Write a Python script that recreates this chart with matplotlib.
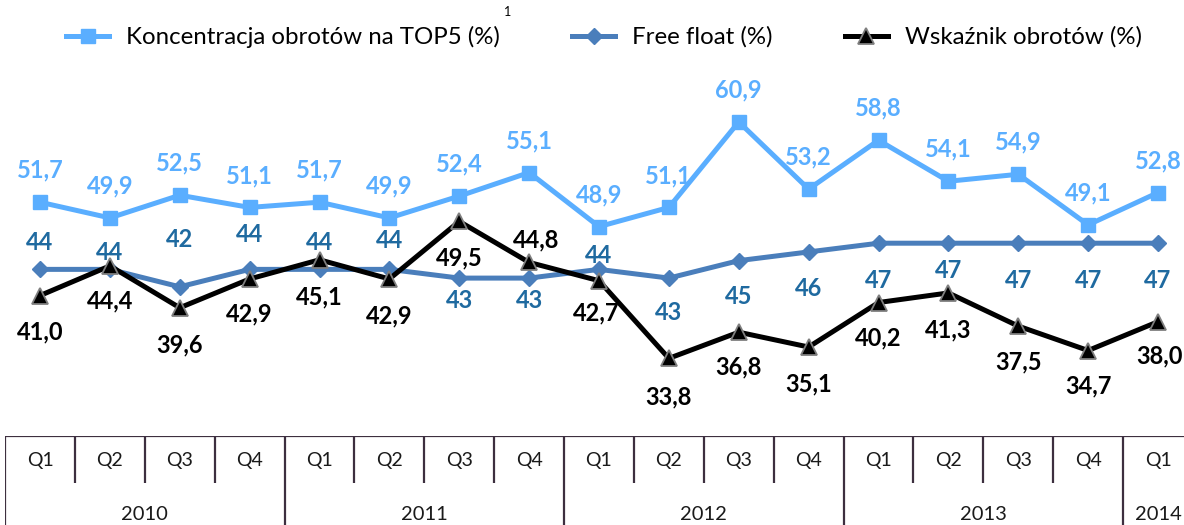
import matplotlib
matplotlib.use('Agg')
import matplotlib.pyplot as plt
from matplotlib.lines import Line2D

plt.rcParams['font.family'] = ['Lato', 'DejaVu Sans']

quarters = ['Q1', 'Q2', 'Q3', 'Q4', 'Q1', 'Q2', 'Q3', 'Q4', 'Q1', 'Q2', 'Q3', 'Q4',
            'Q1', 'Q2', 'Q3', 'Q4', 'Q1']
years = ['2010', '2011', '2012', '2013', '2014']
top5 = [51.7, 49.9, 52.5, 51.1, 51.7, 49.9, 52.4, 55.1, 48.9, 51.1, 60.9, 53.2,
        58.8, 54.1, 54.9, 49.1, 52.8]
free_float = [44, 44, 42, 44, 44, 44, 43, 43, 44, 43, 45, 46, 47, 47, 47, 47, 47]
turnover = [41.0, 44.4, 39.6, 42.9, 45.1, 42.9, 49.5, 44.8, 42.7, 33.8, 36.8, 35.1,
            40.2, 41.3, 37.5, 34.7, 38.0]

# label offsets in pixels (dx, dy)
off_top5 = [(0, 32)] * 17
off_ff = [(0, 27), (0, 17), (0, 47), (0, 35), (0, 27), (0, 29), (0, -22), (0, -22),
          (0, 14), (0, -34), (0, -36), (0, -37), (0, -37), (0, -27), (0, -37),
          (0, -37), (0, -37)]
off_turn = [(0, -36), (0, -35), (0, -37), (0, -35), (0, -37), (0, -37), (0, -37),
            (7, 22), (-3, -32), (0, -39), (0, -35), (0, -37), (0, -35), (0, -37),
            (0, -36), (0, -35), (2, -34)]

c_top5 = '#5aaeff'
c_ff = '#4a7ebb'
c_ff_lab = '#1f6aa0'
c_tab = '#3d2f3f'

W, H = 1184, 525
fig = plt.figure(figsize=(W / 100, H / 100), dpi=100)

step = 69.875
left_px = 40 - step / 2
ncells = (W - left_px) / step
ax = fig.add_axes([left_px / W, (H - 436) / H, 1 - left_px / W, (436 - 60) / H])
ax.set_xlim(-0.5, -0.5 + ncells)
ax.set_ylim(24.9, 68.0)
ax.axis('off')

x = list(range(len(quarters)))
ax.plot(x, top5, color=c_top5, lw=3.6, marker='s', ms=10, zorder=3)
ax.plot(x, free_float, color=c_ff, lw=3.6, marker='D', ms=8.5, zorder=2)
ax.plot(x, turnover, color='black', lw=3.6, marker='^', ms=11,
        mec='#7f7f7f', mew=1.3, zorder=4)

def labels(vals, offs, color, fmt):
    for xi, v, (dx, dy) in zip(x, vals, offs):
        ax.annotate(fmt(v), (xi, v), xytext=(dx, dy), textcoords='offset pixels',
                    ha='center', va='center', fontsize=17, fontweight='bold',
                    color=color, zorder=5)

labels(top5, off_top5, c_top5, lambda v: f'{v:.1f}'.replace('.', ','))
labels(free_float, off_ff, c_ff_lab, lambda v: f'{v:d}')
labels(turnover, off_turn, 'black', lambda v: f'{v:.1f}'.replace('.', ','))

# category table
at = fig.add_axes([left_px / W, 0, 1 - left_px / W, 89 / H])
at.set_xlim(-0.5, -0.5 + ncells)
at.set_ylim(0, 1)
at.axis('off')
split = 0.47
at.plot([-0.5, -0.5 + ncells], [1, 1], color=c_tab, lw=1.6, solid_capstyle='butt')
for i in range(len(quarters) + 1):
    lo = 0 if i % 4 == 0 else split
    at.plot([i - 0.5, i - 0.5], [lo, 1], color=c_tab, lw=1.6, solid_capstyle='butt')
for i, q in enumerate(quarters):
    at.text(i, 0.73, q, ha='center', va='center', fontsize=14, color='#1a1a1a')
for k, yr in enumerate(years):
    first = 4 * k
    last = min(first + 3, len(quarters) - 1)
    at.text((first + last) / 2, 0.12, yr, ha='center', va='center', fontsize=14.5,
            color='#1a1a1a')

handles = [
    Line2D([], [], color=c_top5, lw=3.6, marker='s', ms=10),
    Line2D([], [], color=c_ff, lw=3.6, marker='D', ms=8.5),
    Line2D([], [], color='black', lw=3.6, marker='^', ms=11, mec='#7f7f7f', mew=1.3),
]
names = ['Koncentracja obrotów na TOP5 (%)', 'Free float (%)', 'Wskaźnik obrotów (%)']
leg = fig.legend(handles, names, loc='center', bbox_to_anchor=(604 / W, 1 - 37 / H),
                 ncol=3, frameon=False, fontsize=17.3, handlelength=1.8,
                 handletextpad=0.7, columnspacing=3.0, borderpad=0)

# footnote mark right after the first legend entry
fig.canvas.draw()
bb = leg.get_texts()[0].get_window_extent()
fig.text((bb.x1 + 4) / W, 1 - 12 / H, '1', fontsize=9, ha='left', va='center')

fig.savefig('out.png', dpi=100)
